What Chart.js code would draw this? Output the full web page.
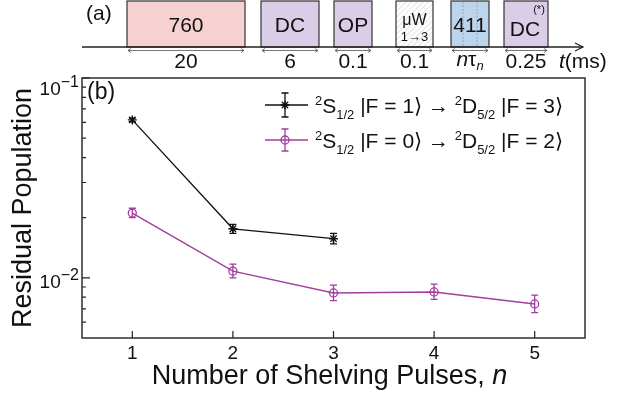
<!DOCTYPE html>
<html>
<head>
<meta charset="utf-8">
<script src="https://cdn.jsdelivr.net/npm/chart.js@4.4.1/dist/chart.umd.min.js"></script>
<style>
body{margin:0;background:#fff;}
#wrap{position:relative;width:618px;height:396px;font-family:"Liberation Sans",Arial,sans-serif;color:#111;overflow:hidden;}
#graph_pop{position:absolute;left:0;top:0;}
#seq{position:absolute;left:0;top:0;}
.ov{position:absolute;white-space:nowrap;line-height:1;}
.sp{position:relative;font-size:13px;top:-8px;}
.sb{position:relative;font-size:13px;top:6px;}
.ylab{font-size:19px;transform:translate(-100%,-50%);}
.ylab span{position:relative;font-size:16px;top:-8px;}
.leg{font-size:21px;transform:translateY(-50%);}
</style>
</head>
<body>
<div id="wrap">
<canvas id="graph_pop" width="618" height="396"></canvas>

<svg id="seq" width="618" height="80" font-family="Liberation Sans, Arial, sans-serif" fill="#111">
	<defs>
		<pattern id="hatch" width="4" height="4" patternUnits="userSpaceOnUse" patternTransform="rotate(45)">
			<rect width="4" height="4" fill="#fff"/>
			<line x1="0" y1="0" x2="0" y2="4" stroke="#c8c8c8" stroke-width="1"/>
		</pattern>
	</defs>
	<text x="86" y="20" font-size="21">(a)</text>
	<!-- pulse boxes -->
	<rect x="127" y="1" width="118" height="46" fill="#f6d1d1" stroke="#333" stroke-width="1.2"/>
	<rect x="261" y="1" width="58" height="46" fill="#dacde7" stroke="#333" stroke-width="1.2"/>
	<rect x="334" y="1" width="38" height="46" fill="#dacde7" stroke="#333" stroke-width="1.2"/>
	<rect x="396" y="1" width="37" height="46" fill="url(#hatch)" stroke="#333" stroke-width="1.2"/>
	<rect x="451" y="1" width="38" height="46" fill="#bcd4ec" stroke="#333" stroke-width="1.2"/>
	<rect x="504" y="1" width="44" height="46" fill="#dacde7" stroke="#333" stroke-width="1.2"/>
	<line x1="463" y1="2" x2="463" y2="46" stroke="#8a9cb0" stroke-width="1" stroke-dasharray="1.5,2"/>
	<line x1="477" y1="2" x2="477" y2="46" stroke="#8a9cb0" stroke-width="1" stroke-dasharray="1.5,2"/>
	<g font-size="21" text-anchor="middle">
		<text x="186" y="32">760</text>
		<text x="290" y="32">DC</text>
		<text x="353" y="32">OP</text>
		<text x="414.5" y="25" font-size="16">μW</text>
		<text x="414.5" y="41" font-size="13">1→3</text>
		<text x="470" y="32">411</text>
		<text x="525" y="36">DC</text>
		<text x="539" y="13" font-size="11">(*)</text>
	</g>
	<!-- time axis -->
	<line x1="82" y1="47" x2="583" y2="47" stroke="#222" stroke-width="1.3"/>
	<polyline points="575,43 583,47 575,51" fill="none" stroke="#222" stroke-width="1.2"/>
	<g stroke="#555" stroke-width="0.8" fill="none">
		<path d="M128,50.5 H244 M131,48.5 L128,50.5 L131,52.5 M241,48.5 L244,50.5 L241,52.5"/>
		<path d="M262,50.5 H318 M265,48.5 L262,50.5 L265,52.5 M315,48.5 L318,50.5 L315,52.5"/>
		<path d="M335,50.5 H371 M338,48.5 L335,50.5 L338,52.5 M368,48.5 L371,50.5 L368,52.5"/>
		<path d="M397,50.5 H432 M400,48.5 L397,50.5 L400,52.5 M429,48.5 L432,50.5 L429,52.5"/>
		<path d="M452,50.5 H488 M455,48.5 L452,50.5 L455,52.5 M485,48.5 L488,50.5 L485,52.5"/>
		<path d="M505,50.5 H547 M508,48.5 L505,50.5 L508,52.5 M544,48.5 L547,50.5 L544,52.5"/>
	</g>
	<g font-size="21" text-anchor="middle">
		<text x="186" y="68">20</text>
		<text x="290" y="68">6</text>
		<text x="353" y="68">0.1</text>
		<text x="414.5" y="68">0.1</text>
		<text x="470" y="66"><tspan font-style="italic">n</tspan>τ<tspan font-style="italic" font-size="13" dy="4">n</tspan></text>
		<text x="526" y="68">0.25</text>
	</g>
	<text x="559" y="68" font-size="21"><tspan font-style="italic">t</tspan>(ms)</text>
</svg>

<div class="ov" id="lab_b" style="font-size:23px;">(b)</div>
<div class="ov ylab" id="ylab0">10<span>−1</span></div>
<div class="ov ylab" id="ylab1">10<span>−2</span></div>
<div class="ov leg" id="leg0"><span class="sp">2</span>S<span class="sb">1/2</span> |F = 1⟩ → <span class="sp">2</span>D<span class="sb">5/2</span> |F = 3⟩</div>
<div class="ov leg" id="leg1"><span class="sp">2</span>S<span class="sb">1/2</span> |F = 0⟩ → <span class="sp">2</span>D<span class="sb">5/2</span> |F = 2⟩</div>
<div class="ov" id="xtitle" style="font-size:27px;transform:translate(-50%,-50%);">Number of Shelving Pulses, <i>n</i></div>
<div class="ov" id="ytitle" style="font-size:27px;transform:translate(-50%,-50%) rotate(-90deg);">Residual Population</div>
</div>

<script>
// number of shelving pulses
var pulses = [1, 2, 3, 4, 5];

// F=1 -> F=3 (black), residual population and error bar ends
var f1_pop = [0.0617, 0.0176, 0.0157];
var f1_lo  = [0.0604, 0.0167, 0.0148];
var f1_hi  = [0.0630, 0.0185, 0.0167];

// F=0 -> F=2 (purple)
var f0_pop = [0.0211, 0.0108, 0.0084, 0.0085, 0.0074];
var f0_lo  = [0.0200, 0.0100, 0.0077, 0.0078, 0.0067];
var f0_hi  = [0.0223, 0.0117, 0.0092, 0.0093, 0.0082];

var x_ticks = [1, 2, 3, 4, 5];
var y_ticks = [0.006, 0.007, 0.008, 0.009, 0.01, 0.02, 0.03, 0.04, 0.05, 0.06, 0.07, 0.08, 0.09, 0.1];
var y_major = [0.1, 0.01];

var col_f1 = '#111111';
var col_f0 = '#a33d9e';

function points(pop, lo, hi){
	return pop.map(function(v, i){
		return {x: pulses[i], y: v, lo: lo[i], hi: hi[i]};
	});
}

function place(id, x, y){
	var el = document.getElementById(id);
	el.style.left = x + 'px';
	el.style.top = y + 'px';
}

function drawStar(ctx, x, y, r){
	var d = r * 0.7071;
	ctx.beginPath();
	ctx.moveTo(x, y - r); ctx.lineTo(x, y + r);
	ctx.moveTo(x - r, y); ctx.lineTo(x + r, y);
	ctx.moveTo(x - d, y - d); ctx.lineTo(x + d, y + d);
	ctx.moveTo(x - d, y + d); ctx.lineTo(x + d, y - d);
	ctx.stroke();
}

function errBar(ctx, x, y1, y2, cap){
	ctx.beginPath();
	ctx.moveTo(x, y1); ctx.lineTo(x, y2);
	ctx.moveTo(x - cap, y1); ctx.lineTo(x + cap, y1);
	ctx.moveTo(x - cap, y2); ctx.lineTo(x + cap, y2);
	ctx.stroke();
}

var frame_plugin = {
	id: 'frame',
	afterDatasetsDraw: function(chart){
		var ctx = chart.ctx, xs = chart.scales.x, ys = chart.scales.y;
		chart.data.datasets.forEach(function(ds){
			ctx.save();
			ctx.strokeStyle = ds.borderColor;
			ctx.lineWidth = 1.3;
			ds.data.forEach(function(p){
				errBar(ctx, xs.getPixelForValue(p.x), ys.getPixelForValue(p.lo), ys.getPixelForValue(p.hi), 3.5);
			});
			ctx.restore();
		});
	},
	afterDraw: function(chart){
		var ctx = chart.ctx, a = chart.chartArea, xs = chart.scales.x, ys = chart.scales.y;
		ctx.save();
		ctx.strokeStyle = '#222';
		ctx.lineWidth = 1.4;
		ctx.strokeRect(a.left, a.top, a.right - a.left, a.bottom - a.top);
		//inward ticks
		ctx.lineWidth = 1.2;
		ctx.beginPath();
		x_ticks.forEach(function(v){
			var x = xs.getPixelForValue(v);
			ctx.moveTo(x, a.bottom); ctx.lineTo(x, a.bottom - 7);
		});
		y_ticks.forEach(function(v){
			var y = ys.getPixelForValue(v);
			var len = y_major.indexOf(v) >= 0 ? 8 : 4;
			ctx.moveTo(a.left, y); ctx.lineTo(a.left + len, y);
		});
		ctx.stroke();

		//legend symbols
		var lx = a.left + 183, mx = a.left + 203;
		var r0 = a.top + 27, r1 = a.top + 62;
		ctx.lineWidth = 1.3;
		ctx.strokeStyle = col_f1;
		ctx.beginPath(); ctx.moveTo(lx, r0); ctx.lineTo(lx + 43, r0); ctx.stroke();
		errBar(ctx, mx, r0 - 12, r0 + 12, 3.5);
		drawStar(ctx, mx, r0, 4.5);
		ctx.strokeStyle = col_f0;
		ctx.beginPath(); ctx.moveTo(lx, r1); ctx.lineTo(lx + 43, r1); ctx.stroke();
		errBar(ctx, mx, r1 - 11, r1 + 11, 3.5);
		ctx.beginPath(); ctx.arc(mx, r1, 4, 0, Math.PI * 2); ctx.stroke();
		ctx.restore();

		place('leg0', a.left + 233, r0);
		place('leg1', a.left + 233, r1);
		place('lab_b', a.left + 5, a.top + 2);
		y_major.forEach(function(v, i){
			var y = ys.getPixelForValue(v);
			place('ylab' + i, a.left - 3, y - a.top < 10 ? y + 10 : y + 3);
		});
		place('xtitle', (a.left + a.right) / 2 - 4, 375);
		place('ytitle', 22, (a.top + a.bottom) / 2);
	}
};

var graph_pop_config = {
	type: 'line',
	data: {
		datasets: [{
			label: 'F=1 -> F=3',
			data: points(f1_pop, f1_lo, f1_hi),
			borderColor: col_f1,
			backgroundColor: col_f1,
			borderWidth: 1.3,
			pointStyle: 'star',
			pointRadius: 4.5,
			pointBorderWidth: 1.4,
			fill: false,
			tension: 0
		},{
			label: 'F=0 -> F=2',
			data: points(f0_pop, f0_lo, f0_hi),
			borderColor: col_f0,
			backgroundColor: 'rgba(0,0,0,0)',
			borderWidth: 1.4,
			pointStyle: 'circle',
			pointRadius: 4,
			pointBorderWidth: 1.3,
			fill: false,
			tension: 0
		}]
	},
	options: {
		animation: false,
		responsive: false,
		layout: {
			padding: {top: 78, right: 33, left: 0, bottom: 0}
		},
		scales: {
			x: {
				type: 'linear',
				min: 0.5,
				max: 5.5,
				afterBuildTicks: function(scale){
					scale.ticks = x_ticks.map(function(v){ return {value: v}; });
				},
				afterFit: function(scale){ scale.height = 58; },
				ticks: {
					font: {family: 'Liberation Sans', size: 19},
					color: '#111',
					padding: 4,
					maxRotation: 0
				},
				grid: {display: false, drawTicks: false},
				border: {display: false}
			},
			y: {
				type: 'logarithmic',
				min: 0.005,
				max: 0.1,
				afterFit: function(scale){ scale.width = 82; },
				ticks: {display: false},
				grid: {display: false, drawTicks: false},
				border: {display: false}
			}
		},
		plugins: {
			legend: {display: false},
			tooltip: {enabled: false}
		}
	},
	plugins: [frame_plugin]
};

document.addEventListener("DOMContentLoaded", function(){
	new Chart(document.getElementById("graph_pop").getContext('2d'), graph_pop_config);
});
</script>
</body>
</html>
